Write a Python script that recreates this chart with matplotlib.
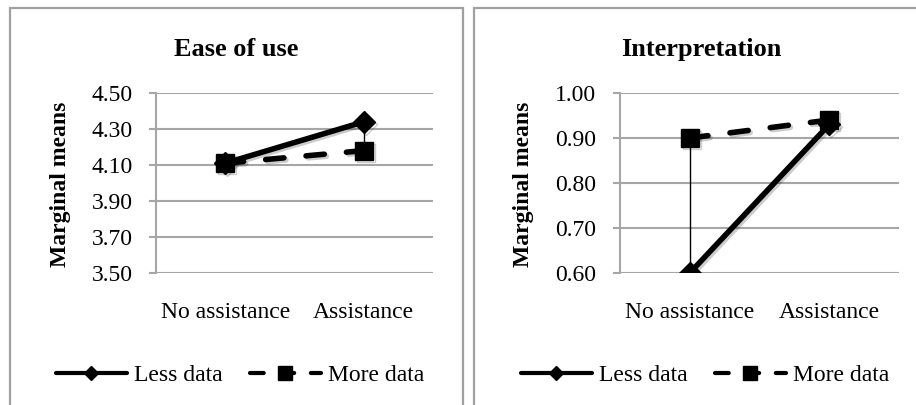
import matplotlib
matplotlib.use("Agg")
import matplotlib.pyplot as plt
import matplotlib.patheffects as pe
from matplotlib.patches import Rectangle

plt.rcParams['font.family'] = ['Liberation Serif', 'DejaVu Serif']

categories = ["No assistance", "Assistance"]

# panel 1: ease of use
ease_less = [4.11, 4.34]
ease_more = [4.11, 4.18]
ease_ticks = [3.50, 3.70, 3.90, 4.10, 4.30, 4.50]

# panel 2: interpretation
interp_less = [0.60, 0.93]
interp_more = [0.90, 0.94]
interp_ticks = [0.60, 0.70, 0.80, 0.90, 1.00]

W, H = 916, 405
fig = plt.figure(figsize=(W / 100, H / 100), dpi=100)

grid_col = "#a6a6a6"
border_col = "#a0a0a0"
fs = 17
shadow = [pe.SimpleLineShadow(offset=(1.5, -1.5), alpha=0.2), pe.Normal()]


def px(x0, y0, x1, y1):
    # pixel box -> figure fractions
    return [x0 / W, 1 - y1 / H, (x1 - x0) / W, (y1 - y0) / H]


def panel(rect, title, title_x, less, more, ticks, legend_x):
    ax = fig.add_axes(rect)
    x = list(range(len(categories)))
    # high-low lines
    for i in x:
        ax.plot([i, i], [less[i], more[i]], color="black", lw=1.0, zorder=2)
    ax.plot(x, less, color="black", lw=4, marker="D", markersize=11,
            solid_capstyle="round", label="Less data", zorder=3,
            path_effects=shadow)
    ax.plot(x, more, color="black", lw=4, marker="s", markersize=13,
            linestyle=(0, (3.3, 4)), dash_capstyle="round",
            label="More data", zorder=4, path_effects=shadow)
    ax.set_xlim(-0.5, 1.5)
    ax.set_ylim(ticks[0], ticks[-1])
    ax.set_yticks(ticks)
    ax.set_yticklabels(["%.2f" % t for t in ticks])
    ax.set_xticks(x)
    ax.set_xticklabels(categories)
    ax.yaxis.grid(True, color=grid_col, lw=1.5)
    ax.set_axisbelow(True)
    for s in ["top", "right", "bottom"]:
        ax.spines[s].set_visible(False)
    ax.spines["left"].set_color(grid_col)
    ax.spines["left"].set_linewidth(1.5)
    ax.tick_params(axis="y", colors=grid_col, labelcolor="black",
                   length=5, width=1.5, labelsize=fs, pad=12)
    ax.tick_params(axis="x", length=0, labelsize=fs, pad=21)
    ax.set_ylabel("Marginal means", fontsize=fs, fontweight="bold",
                  va="center")
    ax.yaxis.set_label_coords(-0.345, 0.494)
    fig.text(title_x / W, 1 - 56 / H, title, fontsize=19, fontweight="bold",
             ha="center", va="baseline")
    leg = ax.legend(loc="center", bbox_to_anchor=(legend_x / W, 1 - 375 / H),
                    bbox_transform=fig.transFigure, ncol=2, frameon=False,
                    fontsize=fs, handlelength=3.0, columnspacing=1.15,
                    handletextpad=0.3)
    for h in leg.legend_handles:
        h.set_linewidth(3)
        h.set_path_effects([])
    leg.legend_handles[0].set_markersize(7)
    leg.legend_handles[1].set_markersize(10)
    return ax


panel(px(156, 93, 433, 273), "Ease of use", 236, ease_less, ease_more,
      ease_ticks, 240)
panel(px(620, 93, 899, 273), "Interpretation", 701, interp_less, interp_more,
      interp_ticks, 705)

# chart area borders
fig.patches.append(Rectangle((10 / W, -0.1), 453 / W, 1.1 - 8 / H,
                             transform=fig.transFigure, fill=False,
                             edgecolor=border_col, lw=1.6))
fig.patches.append(Rectangle((474 / W, -0.1), 500 / W, 1.1 - 8 / H,
                             transform=fig.transFigure, fill=False,
                             edgecolor=border_col, lw=1.6))

fig.savefig("out.png", dpi=100)
